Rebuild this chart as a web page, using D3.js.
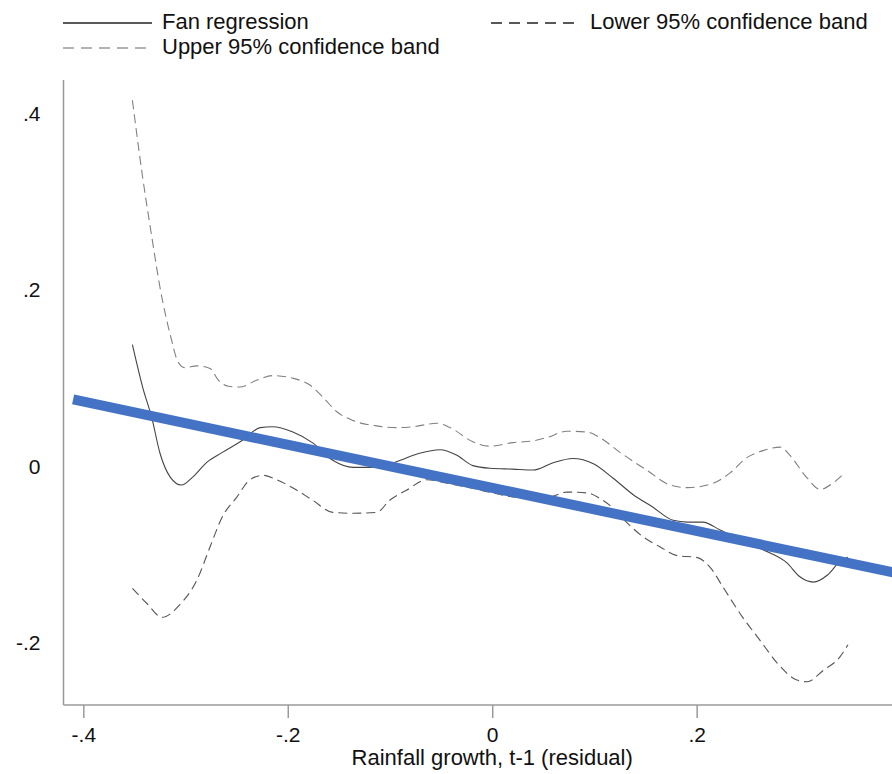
<!DOCTYPE html>
<html>
<head>
<meta charset="utf-8">
<script src="https://cdn.jsdelivr.net/npm/d3@7"></script>
<style>
  body { margin: 0; background: #fff; }
  text { font-family: "Liberation Sans", Arial, sans-serif; fill: #111; }
</style>
</head>
<body>
<div id="chart"></div>
<script>
// values
const upperX = [-0.352, -0.342, -0.333, -0.325, -0.313, -0.309, -0.301, -0.289, -0.276, -0.268, -0.258, -0.247, -0.230, -0.215, -0.195, -0.178, -0.166, -0.152, -0.136, -0.113, -0.093, -0.078, -0.054, -0.041, -0.019, -0.002, 0.020, 0.040, 0.054, 0.073, 0.093, 0.105, 0.125, 0.151, 0.174, 0.191, 0.216, 0.233, 0.249, 0.265, 0.282, 0.291, 0.308, 0.321, 0.333, 0.345];
const upperY = [0.415, 0.328, 0.260, 0.203, 0.140, 0.123, 0.112, 0.114, 0.111, 0.098, 0.091, 0.090, 0.098, 0.103, 0.100, 0.092, 0.079, 0.062, 0.052, 0.046, 0.044, 0.045, 0.049, 0.044, 0.028, 0.023, 0.027, 0.029, 0.033, 0.040, 0.039, 0.033, 0.016, -0.004, -0.021, -0.024, -0.019, -0.007, 0.010, 0.018, 0.022, 0.013, -0.013, -0.026, -0.019, -0.007];

const fanX = [-0.352, -0.342, -0.333, -0.325, -0.315, -0.304, -0.293, -0.279, -0.264, -0.244, -0.227, -0.215, -0.195, -0.176, -0.156, -0.136, -0.117, -0.097, -0.090, -0.071, -0.051, -0.035, -0.019, -0.002, 0.020, 0.040, 0.059, 0.079, 0.099, 0.118, 0.138, 0.157, 0.177, 0.191, 0.206, 0.223, 0.249, 0.272, 0.288, 0.301, 0.314, 0.328, 0.340, 0.348];
const fanY = [0.138, 0.090, 0.055, 0.015, -0.012, -0.021, -0.012, 0.005, 0.016, 0.030, 0.044, 0.045, 0.039, 0.027, 0.007, -0.001, -0.001, 0.004, 0.007, 0.015, 0.019, 0.013, 0.001, -0.002, -0.003, -0.004, 0.004, 0.009, 0.003, -0.013, -0.032, -0.046, -0.061, -0.063, -0.063, -0.072, -0.087, -0.098, -0.109, -0.125, -0.131, -0.123, -0.108, -0.103];

const lowerX = [-0.352, -0.338, -0.323, -0.306, -0.289, -0.276, -0.264, -0.250, -0.237, -0.224, -0.211, -0.191, -0.176, -0.156, -0.136, -0.113, -0.100, -0.084, -0.064, -0.044, -0.022, 0.001, 0.027, 0.054, 0.073, 0.093, 0.105, 0.118, 0.132, 0.148, 0.164, 0.181, 0.200, 0.213, 0.226, 0.245, 0.262, 0.279, 0.298, 0.308, 0.324, 0.340, 0.348];
const lowerY = [-0.138, -0.155, -0.171, -0.157, -0.129, -0.091, -0.057, -0.035, -0.015, -0.010, -0.015, -0.027, -0.038, -0.052, -0.053, -0.052, -0.038, -0.027, -0.015, -0.019, -0.024, -0.030, -0.035, -0.035, -0.029, -0.030, -0.036, -0.047, -0.064, -0.080, -0.091, -0.101, -0.103, -0.114, -0.137, -0.171, -0.197, -0.223, -0.242, -0.244, -0.231, -0.216, -0.202];

const fitX = [-0.410, 0.400];
const fitY = [0.076, -0.122];

const xTicks = [-0.4, -0.2, 0, 0.2];
const xTickLabels = ["-.4", "-.2", "0", ".2"];
const yTicks = [-0.2, 0, 0.2, 0.4];
const yTickLabels = ["-.2", "0", ".2", ".4"];

const width = 892;
const height = 774;
const plotBox = { left: 63.5, right: 892, top: 80, bottom: 705 };

const x = d3.scaleLinear().domain([-0.4194, 0.3911]).range([plotBox.left, plotBox.right]);
const y = d3.scaleLinear().domain([-0.2703, 0.438]).range([plotBox.bottom, plotBox.top]);

const svg = d3.select("#chart")
  .append("svg")
  .attr("width", width)
  .attr("height", height);

svg.append("defs").append("clipPath")
  .attr("id", "plot-clip")
  .append("rect")
  .attr("x", plotBox.left).attr("y", 0)
  .attr("width", plotBox.right - plotBox.left).attr("height", plotBox.bottom);

// axes
const xAxis = svg.append("g")
  .attr("transform", `translate(0,${plotBox.bottom})`)
  .call(d3.axisBottom(x).tickValues(xTicks).tickSize(13).tickPadding(9)
    .tickFormat((d, i) => xTickLabels[i]));
xAxis.select(".domain").attr("stroke", "#9a9a9a").attr("stroke-width", 1.5)
  .attr("d", `M${plotBox.left},0H${plotBox.right}`);
xAxis.selectAll(".tick line").attr("stroke", "#9a9a9a").attr("stroke-width", 1.5);
xAxis.selectAll(".tick text").attr("font-size", 21).attr("fill", "#111")
  .attr("font-family", "Liberation Sans, Arial, sans-serif");

const yAxis = svg.append("g")
  .attr("transform", `translate(${plotBox.left},0)`)
  .call(d3.axisLeft(y).tickValues(yTicks).tickSize(0).tickPadding(23)
    .tickFormat((d, i) => yTickLabels[i]));
yAxis.select(".domain").attr("stroke", "#9a9a9a").attr("stroke-width", 1.5)
  .attr("d", `M0,${plotBox.top}V${plotBox.bottom}`);
yAxis.selectAll(".tick text").attr("font-size", 21).attr("fill", "#111")
  .attr("font-family", "Liberation Sans, Arial, sans-serif");

svg.append("text")
  .attr("x", x(0))
  .attr("y", 765)
  .attr("text-anchor", "middle")
  .attr("font-size", 22)
  .text("Rainfall growth, t-1 (residual)");

// curves
const line = d3.line()
  .x(d => x(d[0]))
  .y(d => y(d[1]))
  .curve(d3.curveMonotoneX);

const series = [
  { xs: upperX, ys: upperY, stroke: "#808080", dash: "9,5" },
  { xs: lowerX, ys: lowerY, stroke: "#555", dash: "9,5" },
  { xs: fanX, ys: fanY, stroke: "#444", dash: null }
];

const plot = svg.append("g").attr("clip-path", "url(#plot-clip)");

plot.selectAll("path.curve")
  .data(series)
  .enter()
  .append("path")
  .attr("class", "curve")
  .attr("fill", "none")
  .attr("stroke", d => d.stroke)
  .attr("stroke-width", 1.1)
  .attr("stroke-dasharray", d => d.dash)
  .attr("d", d => line(d.xs.map((v, i) => [v, d.ys[i]])));

plot.append("path")
  .attr("fill", "none")
  .attr("stroke", "#4472C4")
  .attr("stroke-width", 10)
  .attr("d", d3.line().x(d => x(d[0])).y(d => y(d[1]))(fitX.map((v, i) => [v, fitY[i]])));

// legend
const legendItems = [
  { label: "Fan regression", x: 63, y: 23, stroke: "#222", dash: null },
  { label: "Lower 95% confidence band", x: 491, y: 23, stroke: "#222", dash: "11,7" },
  { label: "Upper 95% confidence band", x: 63, y: 48, stroke: "#999", dash: "11,7" }
];

const legend = svg.append("g")
  .selectAll("g")
  .data(legendItems)
  .enter()
  .append("g")
  .attr("transform", d => `translate(${d.x},${d.y})`);

legend.append("line")
  .attr("x1", 0).attr("x2", 89)
  .attr("stroke", d => d.stroke)
  .attr("stroke-width", 1.3)
  .attr("stroke-dasharray", d => d.dash);

legend.append("text")
  .attr("x", 99)
  .attr("y", 5.5)
  .attr("font-size", 22)
  .text(d => d.label);
</script>
</body>
</html>
